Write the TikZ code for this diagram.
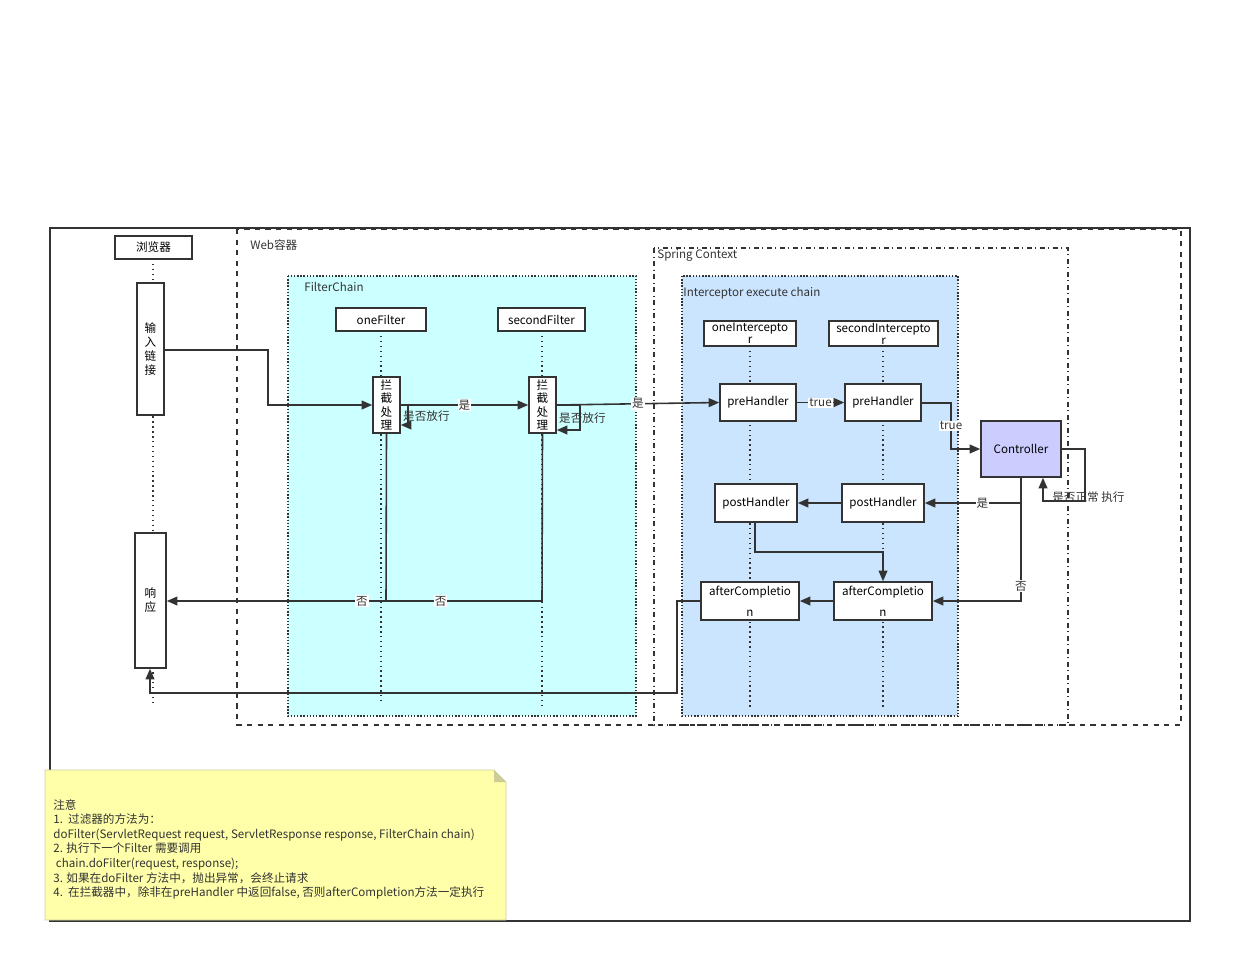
\documentclass[tikz,border=0pt]{standalone}
\usepackage{fontspec}
\setmainfont{Noto Sans CJK SC}
\usetikzlibrary{arrows.meta}
\definecolor{fc}{HTML}{CCFFFF}
\definecolor{ic}{HTML}{CCE5FF}
\definecolor{cc}{HTML}{CCCCFF}
\definecolor{nc}{HTML}{FFFFAA}
\definecolor{ln}{HTML}{333333}
\begin{document}
\begin{tikzpicture}[x=0.02cm,y=-0.02cm,
  font=\fontsize{6.6}{8}\selectfont,
  box/.style={draw=ln,line width=0.9pt,fill=white,inner sep=0pt},
  life/.style={draw=ln,dotted,line width=0.8pt},
  arr/.style={draw=ln,line width=0.9pt,-{Triangle[length=6pt,width=5pt]}},
  lab/.style={fill=white,inner sep=0.5pt,text=ln},
  txt/.style={text=ln,inner sep=0pt}]
\useasboundingbox (0,0) rectangle (1240,971);
\draw[ln,line width=0.8pt] (50,228) rectangle (1190,921);
\draw[ln,dashed,line width=0.8pt] (237,229) rectangle (1181,725);
\node[txt,anchor=west] (web) at (250,245) {Web容器};
\draw[ln,densely dotted,fill=fc,line width=0.8pt] (288,276) rectangle (636,716);
\node[txt,anchor=west] (fcl) at (304,287) {FilterChain};
\draw[ln,dash dot,line width=0.8pt] (654,248) rectangle (1068,725);
\node[txt,anchor=west] (scl) at (657,255) {Spring Context};
\draw[ln,densely dotted,fill=ic,line width=0.8pt] (682,276) rectangle (958,716);
\node[txt,anchor=west] (icl) at (683,293) {Interceptor execute chain};
% lifelines
\draw[life] (153,259) -- (153,705);
\draw[life] (381,331) -- (381,702);
\draw[life] (542,331) -- (542,705);
\draw[life] (750,346) -- (750,708);
\draw[life] (883,346) -- (883,708);
% nodes
\node[box,minimum width=77*0.02cm,minimum height=23*0.02cm] (br) at (153.5,247.5) {浏览器};
\node[box,minimum width=27*0.02cm,minimum height=132*0.02cm,align=center] (in) at (150.5,349) {输\\入\\链\\接};
\node[box,minimum width=31*0.02cm,minimum height=135*0.02cm,align=center] (re) at (150.5,600.5) {响\\应};
\node[box,minimum width=90*0.02cm,minimum height=23*0.02cm] (f1) at (381,319.5) {oneFilter};
\node[box,minimum width=87*0.02cm,minimum height=23*0.02cm] (f2) at (541.5,319.5) {secondFilter};
\node[box,minimum width=27*0.02cm,minimum height=56*0.02cm,align=center,font=\fontsize{6.6}{7.6}\selectfont] (p1) at (386.5,405) {拦\\截\\处\\理};
\node[box,minimum width=27*0.02cm,minimum height=56*0.02cm,align=center,font=\fontsize{6.6}{7.6}\selectfont] (p2) at (542.5,405) {拦\\截\\处\\理};
\node[box,minimum width=92*0.02cm,minimum height=25*0.02cm,align=center,font=\fontsize{6.6}{6.8}\selectfont] (i1) at (750,333.5) {oneIntercepto\\r};
\node[box,minimum width=109*0.02cm,minimum height=25*0.02cm,align=center,font=\fontsize{6.6}{6.8}\selectfont] (i2) at (883.5,333.5) {secondIntercepto\\r};
\node[box,minimum width=76*0.02cm,minimum height=37*0.02cm] (pre1) at (758,402.5) {preHandler};
\node[box,minimum width=76*0.02cm,minimum height=37*0.02cm] (pre2) at (883,402.5) {preHandler};
\node[box,fill=cc,minimum width=80*0.02cm,minimum height=56*0.02cm] (ct) at (1021,449) {Controller};
\node[box,minimum width=82*0.02cm,minimum height=38*0.02cm] (po1) at (756,503) {postHandler};
\node[box,minimum width=82*0.02cm,minimum height=38*0.02cm] (po2) at (883,503) {postHandler};
\node[box,minimum width=98*0.02cm,minimum height=38*0.02cm,align=center,font=\fontsize{6.6}{12}\selectfont] (ac1) at (750,601) {afterCompletio\\n};
\node[box,minimum width=98*0.02cm,minimum height=38*0.02cm,align=center,font=\fontsize{6.6}{12}\selectfont] (ac2) at (883,601) {afterCompletio\\n};
% coordinates
\coordinate (a1) at (268,350);
\coordinate (a2) at (268,405);
\coordinate (l1a) at (408,405); \coordinate (l1b) at (408,425);
\coordinate (l2a) at (580,405); \coordinate (l2b) at (580,430);
\coordinate (n1a) at (386,601); \coordinate (n2a) at (542,601);
\coordinate (t1) at (951,403); \coordinate (t2) at (951,449);
\coordinate (c1) at (1085,449); \coordinate (c2) at (1085,501); \coordinate (c3) at (1043,501);
\coordinate (d1) at (1021,503); \coordinate (d2) at (1021,601);
\coordinate (e1) at (755,552); \coordinate (e2) at (883,552);
\coordinate (g1) at (677,601); \coordinate (g2) at (677,693); \coordinate (g3) at (150,693);
% connectors
\draw[arr] (in.east |- a1) -- (a1) -- (a2) -- (p1.west |- a2);
\draw[arr] (p1.east |- l1a) -- (l1a) -- (l1b) -- (p1.east |- l1b);
\node[lab,anchor=west,fill=none] at (402,416) {是否放行};
\draw[arr] (p1.east) -- node[lab]{是} (p2.west);
\draw[arr] (p2.east |- l2a) -- (l2a) -- (l2b) -- (p2.east |- l2b);
\node[lab,anchor=west,fill=none] at (558,418) {是否放行};
\draw[arr] (p2.east) -- node[lab,pos=0.5]{是} (pre1.west);
\draw[ln,line width=0.9pt] (p1.south) -- (n1a);
\draw[arr] (p2.south) -- (n2a) -- node[lab,pos=0.27]{否} node[lab,pos=0.48]{否} (re.east |- n2a);
\draw[arr] (pre1.east) -- node[lab]{true} (pre2.west);
\draw[arr] (pre2.east |- t1) -- (t1) -- node[lab]{true} (t2) -- (ct.west);
\draw[arr] (ct.east) -- (c1) -- (c2) -- (c3) -- (ct.south -| c3);
\node[txt,anchor=west] at (1052,497) {是否正常 执行};
\draw[arr] (ct.south) -- (d1) -- node[lab,pos=0.4]{是} (po2.east);
\draw[arr] (d1) -- node[lab,pos=0.85]{否} (d2) -- (ac2.east);
\draw[arr] (po2.west) -- (po1.east);
\draw[arr] (po1.south -| e1) -- (e1) -- (e2) -- (ac2.north);
\draw[arr] (ac2.west) -- (ac1.east);
\draw[arr] (ac1.west) -- (g1) -- (g2) -- (g3) -- (re.south -| g3);
% note
\draw[nc!60!gray,fill=nc,line width=0.4pt] (45,770) -- (494,770) -- (506,782) -- (506,920) -- (45,920) -- cycle;
\fill[nc!60!gray] (494,770) -- (494,782) -- (506,782) -- cycle;
\node[txt,anchor=north west,align=left,font=\fontsize{6.6}{8.3}\selectfont] (note) at (53,799) {注意\\
1.\ \ 过滤器的方法为：\\
doFilter(ServletRequest request, ServletResponse response, FilterChain chain)\\
2. 执行下一个Filter 需要调用\\
\ chain.doFilter(request, response);\\
3. 如果在doFilter 方法中，抛出异常，会终止请求\\
4.\ \ 在拦截器中，除非在preHandler 中返回false, 否则afterCompletion方法一定执行};
\end{tikzpicture}
\end{document}
